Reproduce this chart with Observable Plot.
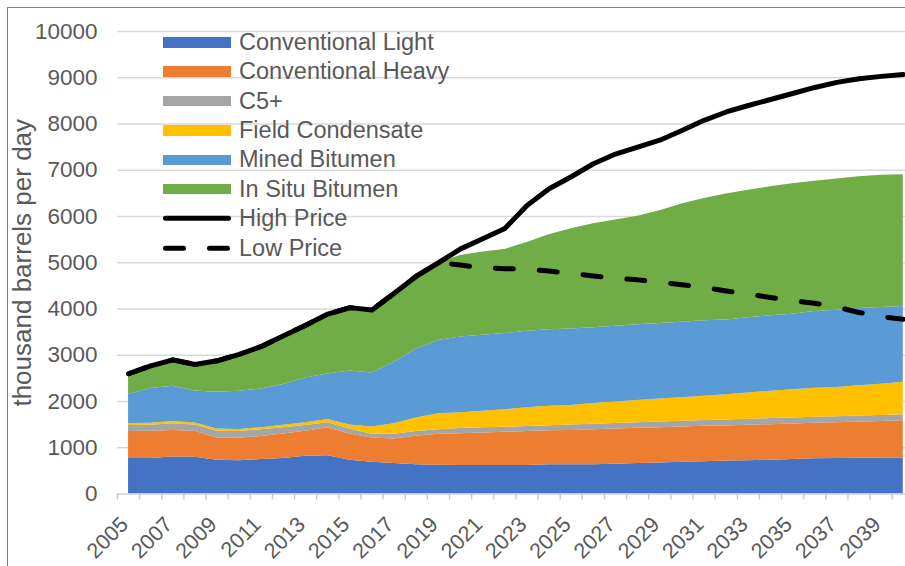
<!DOCTYPE html>
<html><head><meta charset="utf-8">
<script src="https://cdn.jsdelivr.net/npm/d3@7"></script>
<script src="https://cdn.jsdelivr.net/npm/@observablehq/plot@0.6"></script>
<style>
html,body{margin:0;padding:0;background:#fff;}
body{width:905px;height:566px;overflow:hidden;position:relative;font-family:"Liberation Sans",Arial,sans-serif;}
#chart{position:absolute;left:0;top:0;}
#frame{position:absolute;left:7px;top:7px;width:1000px;height:1000px;border:1.5px solid #7f7f7f;pointer-events:none;}
#legend{position:absolute;left:163px;top:27.6px;}
.row{display:flex;align-items:center;height:29.4px;}
.sw{width:68px;height:10.5px;margin-right:8px;flex:none;}
.lab{font-size:23.5px;color:#595959;line-height:29px;white-space:nowrap;}
</style></head>
<body><div id="chart"></div><div id="legend"></div><div id="frame"></div>
<script>
const years = [2005,2006,2007,2008,2009,2010,2011,2012,2013,2014,2015,2016,2017,2018,2019,2020,2021,2022,2023,2024,2025,2026,2027,2028,2029,2030,2031,2032,2033,2034,2035,2036,2037,2038,2039,2040];
const tickYears = [2005,2007,2009,2011,2013,2015,2017,2019,2021,2023,2025,2027,2029,2031,2033,2035,2037,2039];
const yTicks = [0,1000,2000,3000,4000,5000,6000,7000,8000,9000,10000];

const seriesNames = ["Conventional Light","Conventional Heavy","C5+","Field Condensate","Mined Bitumen","In Situ Bitumen"];
const seriesColors = ["#4472C4","#ED7D31","#A5A5A5","#FFC000","#5B9BD5","#70AD47"];

const conventionalLight = [765,765,800,795,730,720,745,770,815,825,730,685,660,630,620,615,615,615,615,630,635,635,645,660,670,685,700,715,720,730,745,760,765,775,780,780];
const conventionalHeavy = [585,590,575,560,480,485,500,530,540,605,565,525,530,620,670,690,705,720,735,735,740,755,760,760,765,765,765,755,765,770,770,770,775,780,790,805];
const c5plus = [130,130,145,135,145,145,145,135,125,110,110,80,100,100,100,110,110,108,108,108,115,120,122,122,122,122,123,129,129,130,129,129,130,129,130,129];
const fieldCondensate = [45,45,50,45,50,45,45,50,60,70,85,160,230,295,345,340,360,380,405,425,425,445,460,480,495,510,525,545,570,590,610,625,635,655,675,700];
const minedBitumen = [625,750,760,690,795,825,835,885,970,985,1170,1165,1330,1490,1585,1640,1645,1645,1655,1655,1650,1640,1640,1635,1635,1633,1633,1620,1625,1633,1630,1660,1670,1670,1660,1640];
const inSituBitumen = [455,490,570,575,680,785,910,1050,1145,1290,1370,1365,1490,1575,1680,1760,1795,1820,1920,2050,2170,2250,2295,2350,2435,2555,2645,2720,2760,2790,2825,2820,2835,2850,2855,2850];
const highPrice = [2600,2770,2900,2800,2880,3020,3190,3420,3650,3890,4030,3980,4340,4710,5000,5300,5520,5740,6240,6600,6860,7140,7350,7500,7650,7860,8080,8260,8400,8530,8660,8790,8900,8980,9030,9070];
const lowPrice = [2600,2770,2900,2800,2880,3020,3190,3420,3650,3890,4030,3980,4340,4710,5000,4950,4890,4870,4865,4820,4770,4715,4665,4630,4580,4525,4470,4390,4320,4250,4180,4125,4040,3925,3835,3780];

const seriesValues = [conventionalLight, conventionalHeavy, c5plus, fieldCondensate, minedBitumen, inSituBitumen];
const stackData = [];
seriesNames.forEach((s, k) => years.forEach((yr, i) => stackData.push({year: yr, series: s, value: seriesValues[k][i]})));
const highData = years.map((yr, i) => ({year: yr, value: highPrice[i]}));
const lowData = years.map((yr, i) => ({year: yr, value: lowPrice[i]}));
const boundaries = years.map(yr => yr - 0.5);

const textColor = "#595959";
const font = "'Liberation Sans', Arial, sans-serif";

const chart = Plot.plot({
  width: 905, height: 566,
  marginLeft: 117, marginRight: 0, marginTop: 31, marginBottom: 72.5,
  x: {domain: [2004.5, 2040.1], axis: null},
  y: {domain: [0, 10000], axis: null},
  color: {domain: seriesNames, range: seriesColors},
  style: {fontFamily: font, background: "transparent", overflow: "hidden"},
  marks: [
    Plot.ruleY(yTicks, {stroke: "#d9d9d9", strokeWidth: 1.4}),
    Plot.areaY(stackData, {x: "year", y: "value", fill: "series", order: seriesNames, curve: "linear"}),
    Plot.ruleY([0], {stroke: "#d9d9d9", strokeWidth: 1.4}),
    Plot.axisX(boundaries, {tickSize: 6, tickFormat: () => "", stroke: "#c8c8c8", strokeWidth: 1.4, label: null}),
    Plot.text(tickYears, {x: d => d, text: d => String(d), frameAnchor: "bottom", dy: 27, dx: -4, rotate: -45, textAnchor: "end", lineAnchor: "middle", fontSize: 21.5, fill: textColor}),
    Plot.text(yTicks, {y: d => d, text: d => String(d), frameAnchor: "left", dx: -20, textAnchor: "end", fontSize: 22.5, fill: textColor}),
    Plot.text(["thousand barrels per day"], {frameAnchor: "left", dx: -95, rotate: -90, textAnchor: "middle", lineAnchor: "middle", fontSize: 26, fill: textColor}),
    Plot.lineY(highData, {x: "year", y: "value", stroke: "black", strokeWidth: 5, strokeLinejoin: "round", strokeLinecap: "round"}),
    Plot.lineY(lowData, {x: "year", y: "value", stroke: "black", strokeWidth: 5, strokeDasharray: "18 26", strokeLinecap: "round", strokeLinejoin: "round"})
  ]
});
document.getElementById("chart").appendChild(chart);

const legend = document.getElementById("legend");
seriesNames.forEach((s, k) => {
  const row = document.createElement("div");
  row.className = "row";
  row.innerHTML = `<div class="sw" style="background:${seriesColors[k]}"></div><span class="lab">${s}</span>`;
  legend.appendChild(row);
});
[["High Price", ""], ["Low Price", "18 26"]].forEach(([name, dash]) => {
  const row = document.createElement("div");
  row.className = "row";
  row.innerHTML = `<svg class="sw" width="68" height="10.5" style="overflow:visible"><line x1="2.5" x2="65.5" y1="5.25" y2="5.25" stroke="black" stroke-width="5" stroke-linecap="round" ${dash ? `stroke-dasharray="${dash}"` : ""}/></svg><span class="lab">${name}</span>`;
  legend.appendChild(row);
});
</script>
</body></html>
